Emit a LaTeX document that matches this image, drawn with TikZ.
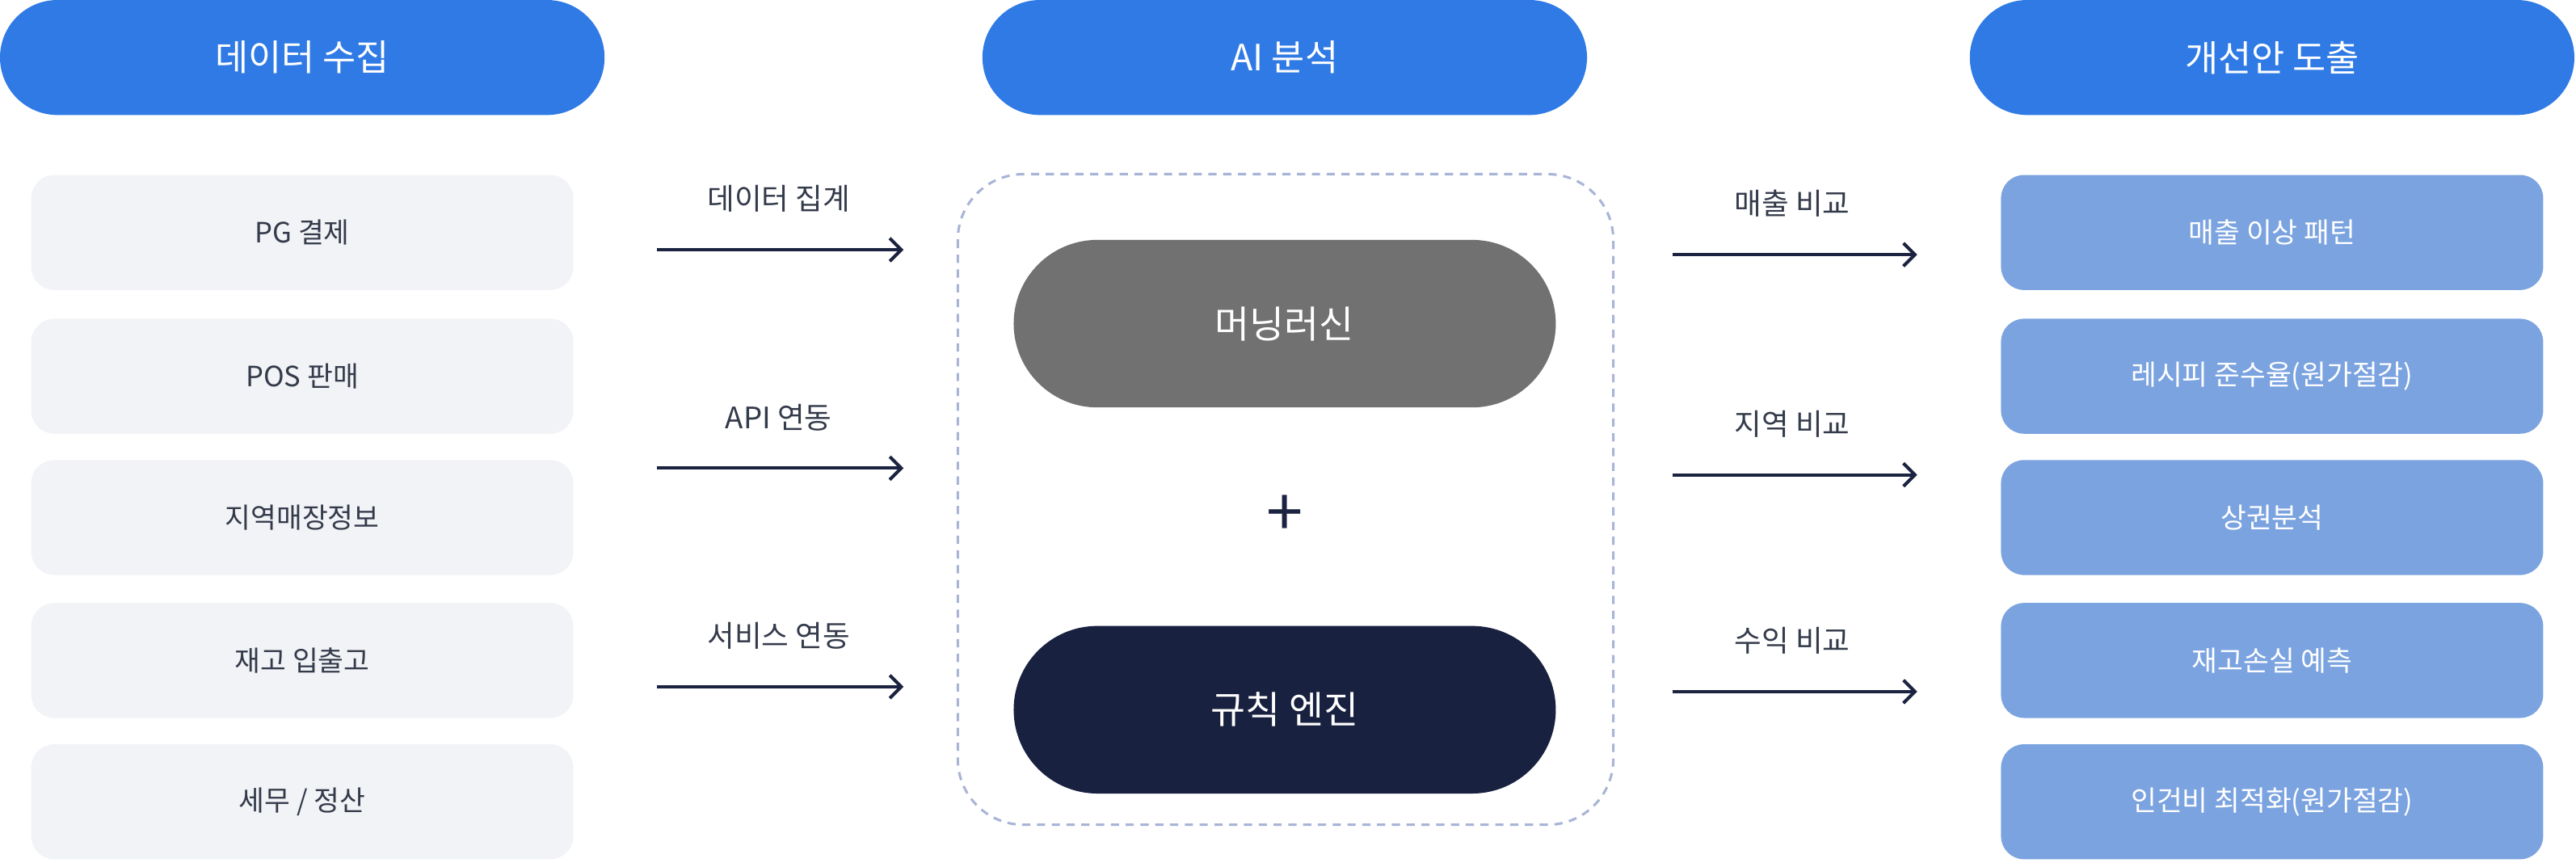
\documentclass[tikz,border=0pt]{standalone}
\usepackage{fontspec}
\setmainfont{Noto Sans CJK KR}
\usetikzlibrary{arrows.meta}
\definecolor{hdr}{HTML}{2F7AE5}
\definecolor{lbox}{HTML}{F2F3F6}
\definecolor{rbox}{HTML}{7BA3E0}
\definecolor{gpill}{HTML}{717171}
\definecolor{dpill}{HTML}{18213F}
\definecolor{arr}{HTML}{1B2340}
\definecolor{dashc}{HTML}{A9B4D6}
\definecolor{txt}{HTML}{333A4A}
\begin{document}
\begin{tikzpicture}[x=1pt,y=-1pt,
  hd/.style={fill=hdr,rounded corners=35pt,minimum width=368pt,minimum height=70pt,inner sep=0,text=white,font=\fontsize{22}{26}\selectfont},
  lb/.style={fill=lbox,rounded corners=14pt,minimum width=330pt,minimum height=70pt,inner sep=0,text=txt,font=\fontsize{17}{20}\selectfont},
  rb/.style={lb,fill=rbox,text=white},
  pill/.style={rounded corners=51pt,minimum width=330pt,minimum height=102pt,inner sep=0,text=white,font=\fontsize{23}{27}\selectfont},
  ar/.style={draw=arr,line width=2pt,-{Straight Barb[length=7pt,width=14pt]}},
  lab/.style={text=txt,font=\fontsize{18}{22}\selectfont}]
\useasboundingbox (0,0) rectangle (1568,525);
\node[hd] (h1) at (184,35) {데이터 수집};
\node[hd] (h2) at (782,35) {AI 분석};
\node[hd] (h3) at (1383,35) {개선안 도출};
\node[lb] (l1) at (184,141.5) {PG 결제};
\node[lb] (l2) at (184,229) {POS 판매};
\node[lb] (l3) at (184,315) {지역매장정보};
\node[lb] (l4) at (184,402) {재고 입출고};
\node[lb] (l5) at (184,488) {세무 / 정산};
\node[rb] (r1) at (1383,141.5) {매출 이상 패턴};
\node[rb] (r2) at (1383,229) {레시피 준수율(원가절감)};
\node[rb] (r3) at (1383,315) {상권분석};
\node[rb] (r4) at (1383,402) {재고손실 예측};
\node[rb] (r5) at (1383,488) {인건비 최적화(원가절감)};
\draw[draw=dashc,line width=1.5pt,dash pattern=on 5pt off 4pt,rounded corners=40pt] (583,106) rectangle (982,502);
\node[pill,fill=gpill] (m1) at (782,197) {머닝러신};
\node[pill,fill=dpill] (m2) at (782,432) {규칙 엔진};
\node[text=arr,font=\fontsize{40}{40}\selectfont] (plus) at (782,314) {+};
\coordinate (a1s) at (400,152); \coordinate (a1e) at (550,152);
\coordinate (a2s) at (400,285); \coordinate (a2e) at (550,285);
\coordinate (a3s) at (400,418); \coordinate (a3e) at (550,418);
\coordinate (b1s) at (1018,155); \coordinate (b1e) at (1167,155);
\coordinate (b2s) at (1018,289); \coordinate (b2e) at (1167,289);
\coordinate (b3s) at (1018,421); \coordinate (b3e) at (1167,421);
\draw[ar] (a1s) -- (a1e); \draw[ar] (a2s) -- (a2e); \draw[ar] (a3s) -- (a3e);
\draw[ar] (b1s) -- (b1e); \draw[ar] (b2s) -- (b2e); \draw[ar] (b3s) -- (b3e);
\node[lab] (t1) at (474,121) {데이터 집계};
\node[lab] (t2) at (474,254) {API 연동};
\node[lab] (t3) at (474,387) {서비스 연동};
\node[lab] (u1) at (1091,124) {매출 비교};
\node[lab] (u2) at (1091,258) {지역 비교};
\node[lab] (u3) at (1091,390) {수익 비교};
\end{tikzpicture}
\end{document}
